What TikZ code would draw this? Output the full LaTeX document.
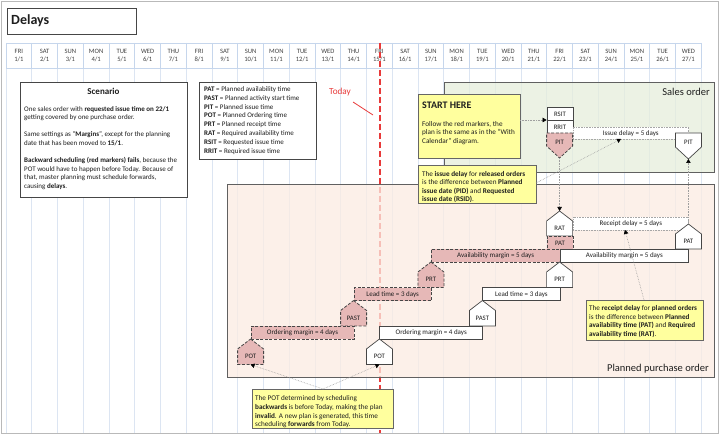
\documentclass[tikz,border=0pt]{standalone}
\usepackage{fontspec}
\setmainfont{Carlito}
\usetikzlibrary{arrows.meta}
\definecolor{gridc}{RGB}{220,229,242}
\definecolor{hdrc}{RGB}{198,214,236}
\definecolor{todayred}{RGB}{232,58,58}
\definecolor{pinkf}{RGB}{230,184,183}
\definecolor{peach}{RGB}{252,236,226}
\definecolor{greenf}{RGB}{230,238,220}
\definecolor{yel}{RGB}{255,255,158}
\definecolor{edge}{RGB}{70,70,70}
\definecolor{txt}{RGB}{30,30,30}
\newcommand\upmark[6]{% name, cx, ytop, height, style, text
  \draw[#5] (#2,#3) -- ++(13,10) -- ++(0,{#4-10}) -- ++(-26,0) -- ++(0,{10-#4}) -- cycle;
  \node[marklbl] (#1) at (#2,{#3+#4-8}) {#6};
  \coordinate (#1-t) at (#2,#3);
  \coordinate (#1-b) at (#2,{#3+#4});
}
\newcommand\downmark[6]{%
  \draw[#5] ({#2-13},#3) -- ++(26,0) -- ++(0,{#4-12}) -- (#2,{#3+#4}) -- ({#2-13},{#3+#4-12}) -- cycle;
  \node[marklbl] (#1) at (#2,{#3+9}) {#6};
  \coordinate (#1-t) at (#2,#3);
  \coordinate (#1-b) at (#2,{#3+#4});
}
\begin{document}
\begin{tikzpicture}[x=1pt,y=-1pt,
  every node/.style={font=\fontsize{7}{8.6}\selectfont, text=txt, inner sep=0pt},
  marklbl/.style={font=\fontsize{6.8}{7}\selectfont},
  barlbl/.style={font=\fontsize{7}{8}\selectfont},
  wbox/.style={draw=edge, line width=0.7pt, fill=white},
  rbox/.style={draw=edge, line width=0.8pt, fill=pinkf, dash pattern=on 3pt off 1.6pt},
  dbar/.style={draw=gray!70, densely dotted, line width=0.6pt, fill=white},
  callout/.style={draw=gray!80!black, line width=0.6pt, fill=yel},
  conn/.style={draw=gray!75, densely dotted, line width=0.6pt, -{Triangle[width=4.5pt,length=4pt,color=black]}},
  region/.style={draw=gray!75!black, line width=0.8pt},
  blk/.style={anchor=north west, align=left},
]
\useasboundingbox (0,0) rectangle (720,435);
\fill[white] (0,0) rectangle (720,435);

% calendar grid
\foreach \i in {0,...,27}{
  \draw[gridc, line width=0.6pt] ({6+25.75*\i},68) -- ({6+25.75*\i},433);
  \draw[hdrc, line width=0.6pt] ({6+25.75*\i},43) -- ({6+25.75*\i},68);
}
\draw[hdrc, line width=0.6pt] (6,43) -- (701.25,43) (6,68) -- (701.25,68);
\foreach \dn/\dd [count=\i] in {FRI/1,SAT/2,SUN/3,MON/4,TUE/5,WED/6,THU/7,FRI/8,SAT/9,SUN/10,MON/11,TUE/12,WED/13,THU/14,FRI/15,SAT/16,SUN/17,MON/18,TUE/19,WED/20,THU/21,FRI/22,SAT/23,SUN/24,MON/25,TUE/26,WED/27}{
  \node[align=center, font=\fontsize{6.6}{8}\selectfont, text=txt!85] (h\i) at ({6+25.75*(\i-0.5)},55.5) {\dn\\\dd/1};
}

% title
\node[draw=edge, line width=0.9pt, minimum width=129pt, minimum height=26pt, anchor=north west] (title) at (7,8) {};
\node[font=\fontsize{14}{16}\selectfont\bfseries, anchor=west] (titletxt) at (11,21) {Delays};

% today line
\draw[todayred, line width=1.4pt, dash pattern=on 6pt off 3pt] (380,43) -- (380,433);
\node[font=\fontsize{9.2}{10}\selectfont, text=todayred] (today) at (340,92) {Today};
\coordinate (todayA) at (353,102);
\coordinate (todayB) at (373,115);
\draw[todayred, line width=0.8pt] (todayA) -- (todayB);

% regions
\node[region, fill=greenf, fill opacity=0.75, minimum width=270pt, minimum height=90pt, anchor=north west] (salesreg) at (444,82) {};
\node[region, fill=peach, fill opacity=0.75, minimum width=487pt, minimum height=193pt, anchor=north west] (ppreg) at (227,184) {};
\node[font=\fontsize{10.5}{12}\selectfont, anchor=base east] (saleslbl) at (710,96) {Sales order};
\node[font=\fontsize{10.5}{12}\selectfont, anchor=base east] (pplbl) at (709,372) {Planned purchase order};

% scenario box
\node[draw=edge, line width=0.8pt, fill=white, minimum width=167pt, minimum height=115pt, anchor=north west] (scen) at (20,82) {};
\node[font=\fontsize{9}{10}\selectfont\bfseries, anchor=base] (scentitle) at (103.5,94.5) {Scenario};
\node[blk] (scentxt) at (24,106) {One sales order with \textbf{requested issue time on 22/1}\\
getting covered by one purchase order.\\[8.6pt]
Same settings as ``\textbf{Margins}'', except for the planning\\
date that has been moved to \textbf{15/1}.\\[8.6pt]
\textbf{Backward scheduling (red markers) fails}, because the\\
POT would have to happen before Today. Because of\\
that, master planning must schedule forwards,\\
causing \textbf{delays}.};

% legend box
\node[draw=edge, line width=0.8pt, fill=white, minimum width=117pt, minimum height=77pt, anchor=north west] (legend) at (199,82) {};
\node[blk, font=\fontsize{7}{8.8}\selectfont] (legtxt) at (204,86.4) {\textbf{PAT} = Planned availability time\\
\textbf{PAST} = Planned activity start time\\
\textbf{PIT} = Planned issue time\\
\textbf{POT} = Planned Ordering time\\
\textbf{PRT} = Planned receipt time\\
\textbf{RAT} = Required availability time\\
\textbf{RSIT} = Requested issue time\\
\textbf{RRIT} = Required issue time};

% ---------- sales order markers ----------
\node[wbox, minimum width=26pt, minimum height=13pt, anchor=north west, marklbl] (rsit) at (546.6,107) {RSIT};
\node[wbox, minimum width=26pt, minimum height=13pt, anchor=north west, marklbl] (rrit) at (546.6,120) {RRIT};
\node[dbar, minimum width=115.8pt, minimum height=12pt, anchor=north west, barlbl] (issuebar) at (572.6,127) {Issue delay = 5 days};
\downmark{pitr}{559.6}{133}{25}{rbox}{PIT}
\downmark{pitw}{688.4}{133}{26}{wbox}{PIT}

% ---------- purchase order markers ----------
\node[dbar, minimum width=115.8pt, minimum height=13pt, anchor=north west, barlbl] (recbar) at (572.6,217) {Receipt delay = 5 days};
\upmark{rat}{559.6}{211}{25}{wbox}{RAT}
\node[rbox, minimum width=26pt, minimum height=13pt, anchor=north west, marklbl] (patr) at (546.6,236) {PAT};
\upmark{patw}{688.4}{224}{25}{wbox}{PAT}

\node[rbox, minimum width=128.7pt, minimum height=13pt, anchor=north west, barlbl] (availr) at (430.9,249) {Availability margin = 5 days};
\node[wbox, minimum width=128.8pt, minimum height=13pt, anchor=north west, barlbl] (availw) at (559.6,249) {Availability margin = 5 days};
\upmark{prtr}{430.9}{262}{25.5}{rbox}{PRT}
\upmark{prtw}{559.6}{262}{25.5}{wbox}{PRT}

\node[rbox, minimum width=77.3pt, minimum height=13pt, anchor=north west, barlbl] (leadr) at (353.6,287.5) {Lead time = 3 days};
\node[wbox, minimum width=77.2pt, minimum height=13pt, anchor=north west, barlbl] (leadw) at (482.4,287.5) {Lead time = 3 days};
\upmark{pastr}{353.6}{300.5}{25.5}{rbox}{PAST}
\upmark{pastw}{482.4}{300.5}{25.5}{wbox}{PAST}

\node[rbox, minimum width=103pt, minimum height=13pt, anchor=north west, barlbl] (ordr) at (250.6,326) {Ordering margin = 4 days};
\node[wbox, minimum width=103pt, minimum height=13pt, anchor=north west, barlbl] (ordw) at (379.4,326) {Ordering margin = 4 days};
\upmark{potr}{250.6}{339}{25.5}{rbox}{POT}
\upmark{potw}{379.4}{339}{25.5}{wbox}{POT}

% ---------- callouts ----------
\node[callout, minimum width=102pt, minimum height=64pt, anchor=north west] (start) at (418,94) {};
\node[font=\fontsize{10}{11}\selectfont\bfseries, anchor=base west] (starttitle) at (422,109) {START HERE};
\node[blk, font=\fontsize{7.2}{8.5}\selectfont] (starttxt) at (422,121.2) {Follow the red markers, the\\
plan is the same as in the ``With\\
Calendar'' diagram.};

\node[callout, minimum width=118pt, minimum height=38pt, anchor=north west] (issuecall) at (418,165) {};
\node[blk, font=\fontsize{7.2}{8.4}\selectfont] (issuetxt) at (422,171.2) {The \textbf{issue delay} for \textbf{released orders}\\
is the difference between \textbf{Planned}\\
\textbf{issue date (PID)} and \textbf{Requested}\\
\textbf{issue date (RSID)}.};

\node[callout, minimum width=117pt, minimum height=40pt, anchor=north west] (reccall) at (586,300) {};
\node[blk, font=\fontsize{7.2}{8.6}\selectfont] (rectxt) at (589,305.2) {The \textbf{receipt delay} for \textbf{planned orders}\\
is the difference between \textbf{Planned}\\
\textbf{availability time (PAT)} and \textbf{Required}\\
\textbf{availability time (RAT)}.};

\node[callout, minimum width=141pt, minimum height=39pt, anchor=north west] (potcall) at (252,389) {};
\node[blk, font=\fontsize{7.2}{8.7}\selectfont] (pottxt) at (255,395.7) {The POT determined by scheduling\\
\textbf{backwards} is before Today, making the plan\\
\textbf{invalid}. A new plan is generated, this time\\
scheduling \textbf{forwards} from Today.};

% ---------- connectors ----------
\coordinate (startout) at (520,120);
\coordinate (rsitin) at (546.6,120);
\draw[conn] (startout) -- (rsitin);
\coordinate (issueout) at (536,183);
\coordinate (issuein) at (621,139);
\draw[conn] (issueout) -- (issuein);
\draw[conn] (pitr-b) -- (rat-t);
\draw[conn] (patw-t) -- (pitw-b);
\coordinate (recout) at (644,300);
\coordinate (recin) at (625,230);
\draw[conn] (recout) -- (recin);
\coordinate (potout) at (323,389);
\draw[conn] (potout) -- (potr-b);
\draw[conn] (potout) -- (potw-b);

% outer frame
\draw[gray!55, line width=1.2pt] (1.5,1.5) rectangle (718.5,433.5);
\end{tikzpicture}
\end{document}
